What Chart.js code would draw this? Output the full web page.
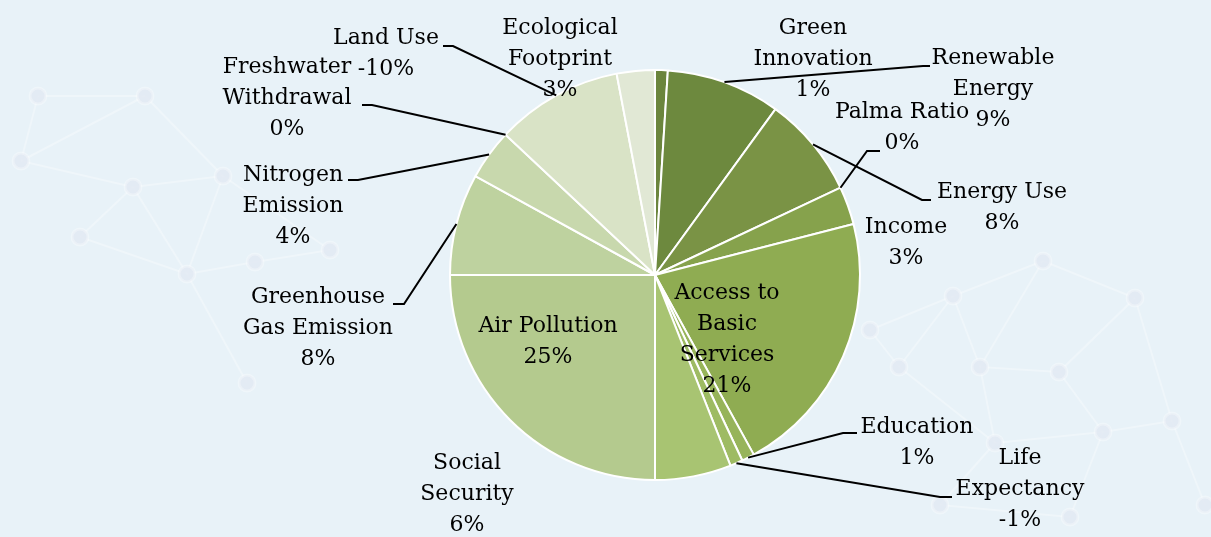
<!DOCTYPE html>
<html>
<head>
<meta charset="utf-8">
<script src="https://cdn.jsdelivr.net/npm/chart.js@4.4.1/dist/chart.umd.min.js"></script>
<style>
  html, body { margin: 0; padding: 0; background: #e8f2f8; }
  canvas { display: block; }
</style>
</head>
<body>
<canvas id="pieChart" width="1211" height="537"></canvas>
<script>
// values (labels show signed values, slices use size)
const categories = ['Green Innovation', 'Renewable Energy', 'Energy Use', 'Palma Ratio', 'Income',
  'Access to Basic Services', 'Education', 'Life Expectancy', 'Social Security', 'Air Pollution',
  'Greenhouse Gas Emission', 'Nitrogen Emission', 'Freshwater Withdrawal', 'Land Use', 'Ecological Footprint'];
const shares = [1, 9, 8, 0, 3, 21, 1, -1, 6, 25, 8, 4, 0, -10, 3];

const sliceColors = ['#6b853d', '#6d893e', '#7a9345', '#7f9b47', '#86a24c', '#8fac52', '#97b45a',
  '#9ebb63', '#a8c472', '#b4ca8e', '#bed29f', '#c8d8ad', '#d0ddbb', '#d9e3c6', '#e1e8d5'];

// how each label is wrapped, and where it sits
const labelLines = [
  ['Green', 'Innovation'], ['Renewable', 'Energy'], ['Energy Use'], ['Palma Ratio'], ['Income'],
  ['Access to', 'Basic', 'Services'], ['Education'], ['Life', 'Expectancy'], ['Social', 'Security'],
  ['Air Pollution'], ['Greenhouse', 'Gas Emission'], ['Nitrogen', 'Emission'], ['Freshwater', 'Withdrawal'],
  ['Land Use'], ['Ecological', 'Footprint']
];
const labelAt = [
  [813, 28], [993, 58], [1002, 192], [902, 112], [906, 227],
  [727, 293], [917, 427], [1020, 458], [467, 463], [548, 326],
  [318, 297], [293, 175], [287, 67], [386, 38], [560, 28]
];
// leader: [elbowX, elbowY, endX] or null
const leaders = [
  null, [923, 66, 930], [922, 200, 931], [867, 151, 880], null,
  null, [843, 433, 857], [940, 497, 952], null, null,
  [404, 304, 393], [358, 180, 348], [372, 105, 362], [453, 46, 443], null
];

const lineGap = 31;

// faint network pattern in the background
const netNodes = [[38, 96], [145, 96], [21, 161], [133, 187], [223, 176], [80, 237], [187, 274], [255, 262],
  [247, 383], [1043, 261], [953, 296], [1135, 298], [899, 367], [980, 367], [1059, 372], [1172, 421],
  [1103, 432], [995, 443], [940, 505], [1070, 517], [1205, 505], [870, 330], [330, 250]];
const netEdges = [[0, 1], [0, 2], [1, 2], [1, 4], [2, 3], [3, 4], [3, 5], [3, 6], [4, 6], [6, 7], [6, 8],
  [5, 6], [4, 22], [22, 7], [9, 10], [9, 11], [9, 13], [10, 12], [10, 13], [11, 14], [11, 15], [13, 14],
  [12, 17], [13, 17], [14, 16], [15, 16], [16, 17], [17, 18], [16, 19], [15, 20], [18, 19], [12, 21],
  [21, 10]];

const backgroundPlugin = {
  id: 'backdrop',
  beforeDraw(chart) {
    const ctx = chart.ctx;
    ctx.save();
    ctx.fillStyle = '#e8f2f8';
    ctx.fillRect(0, 0, chart.width, chart.height);
    ctx.strokeStyle = 'rgba(255,255,255,0.3)';
    ctx.lineWidth = 2;
    netEdges.forEach(([a, b]) => {
      ctx.beginPath();
      ctx.moveTo(netNodes[a][0], netNodes[a][1]);
      ctx.lineTo(netNodes[b][0], netNodes[b][1]);
      ctx.stroke();
    });
    netNodes.forEach(([x, y]) => {
      ctx.beginPath();
      ctx.arc(x, y, 8, 0, Math.PI * 2);
      ctx.fillStyle = 'rgba(225,233,242,0.8)';
      ctx.fill();
      ctx.strokeStyle = 'rgba(255,255,255,0.3)';
      ctx.lineWidth = 3;
      ctx.stroke();
    });
    ctx.restore();
  }
};

const labelPlugin = {
  id: 'sliceLabels',
  afterDatasetsDraw(chart) {
    const ctx = chart.ctx;
    const arcs = chart.getDatasetMeta(0).data;
    ctx.save();
    ctx.font = '22px "DejaVu Serif"';
    ctx.fillStyle = '#000';
    ctx.textAlign = 'center';
    ctx.textBaseline = 'middle';

    arcs.forEach((arc, i) => {
      const p = arc.getProps(['x', 'y', 'startAngle', 'endAngle', 'outerRadius'], true);
      const mid = (p.startAngle + p.endAngle) / 2;
      const lead = leaders[i];
      if (lead) {
        ctx.beginPath();
        ctx.strokeStyle = '#000';
        ctx.lineWidth = 2;
        ctx.moveTo(p.x + Math.cos(mid) * p.outerRadius, p.y + Math.sin(mid) * p.outerRadius);
        ctx.lineTo(lead[0], lead[1]);
        ctx.lineTo(lead[2], lead[1]);
        ctx.stroke();
      }
      const lines = labelLines[i].concat([shares[i] + '%']);
      lines.forEach((txt, k) => {
        ctx.fillText(txt, labelAt[i][0], labelAt[i][1] + k * lineGap);
      });
    });
    ctx.restore();
  }
};

new Chart(document.getElementById('pieChart').getContext('2d'), {
  type: 'pie',
  data: {
    labels: categories,
    datasets: [{
      data: shares.map(v => Math.abs(v)),
      backgroundColor: sliceColors,
      borderColor: '#ffffff',
      borderWidth: 2
    }]
  },
  options: {
    responsive: false,
    animation: false,
    devicePixelRatio: 1,
    radius: 205,
    layout: { padding: { left: 440, right: 341, top: 60, bottom: 47 } },
    plugins: {
      legend: { display: false },
      tooltip: { enabled: false }
    }
  },
  plugins: [backgroundPlugin, labelPlugin]
});
</script>
</body>
</html>
